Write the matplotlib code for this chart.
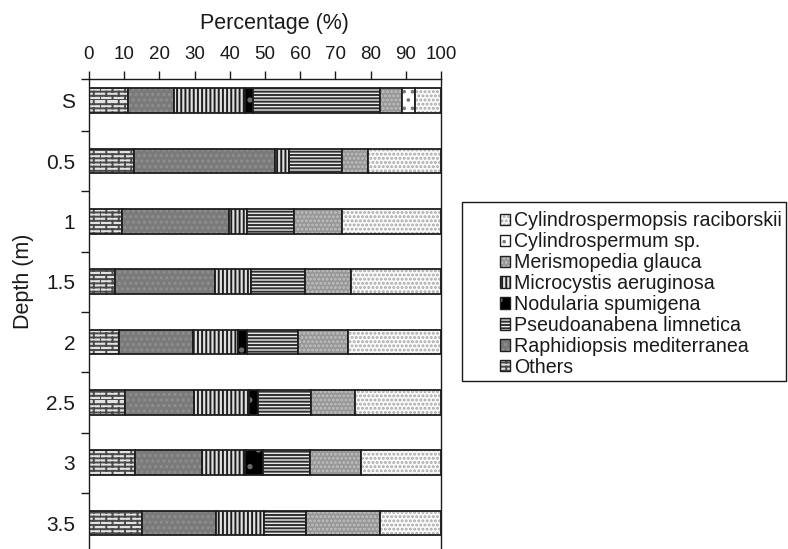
import warnings
import numpy as np
import matplotlib
matplotlib.use('Agg')
import matplotlib.pyplot as plt
import matplotlib.hatch as mhatch
from matplotlib.path import Path
from matplotlib.patches import Patch, Rectangle

warnings.filterwarnings('ignore')

# ---------------- data ----------------
depths = ['S', '0.5', '1', '1.5', '2', '2.5', '3', '3.5']
others = [11.1, 12.7, 9.5, 7.3, 8.4, 10.3, 13.0, 15.1]
raphidiopsis = [13.1, 40.1, 30.4, 28.4, 21.2, 19.5, 19.1, 21.1]
microcystis = [20.1, 4.1, 5.1, 10.3, 12.6, 15.7, 12.2, 13.5]
nodularia = [2.2, 0.0, 0.0, 0.0, 2.6, 2.6, 5.2, 0.0]
pseudoanabena = [36.2, 15.0, 13.1, 15.5, 14.7, 15.0, 13.3, 11.9]
merismopedia = [6.3, 7.4, 13.9, 12.9, 14.2, 12.5, 14.6, 21.1]
cylindrospermum = [3.6, 0.0, 0.0, 0.0, 0.0, 0.0, 0.0, 0.0]
cylindrospermopsis = [7.4, 20.7, 28.0, 25.6, 26.3, 24.4, 22.6, 17.3]
xticks = [0, 10, 20, 30, 40, 50, 60, 70, 80, 90, 100]


# ---------------- custom brick hatch ----------------
class BrickHatch(mhatch.HatchPatternBase):
    def __init__(self, hatch, density):
        self.rows = int(hatch.count('b') * density)
        self.cols = max(self.rows // 3, 1)
        self.num_vertices = (self.rows * 2 + self.rows * self.cols * 2) if self.rows else 0

    def set_vertices_and_codes(self, vertices, codes):
        n, m = self.rows, self.cols
        i = 0
        for k in range(n):
            yv = k / n
            vertices[i] = (0.0, yv); codes[i] = Path.MOVETO; i += 1
            vertices[i] = (1.0, yv); codes[i] = Path.LINETO; i += 1
        for k in range(n):
            yv = k / n
            off = 0.5 / m if k % 2 else 0.0
            for j in range(m):
                xv = j / m + off
                vertices[i] = (xv, yv); codes[i] = Path.MOVETO; i += 1
                vertices[i] = (xv, yv + 1.0 / n); codes[i] = Path.LINETO; i += 1


mhatch._hatch_types.append(BrickHatch)

plt.rcParams['font.family'] = ['Liberation Sans', 'DejaVu Sans']
plt.rcParams['hatch.linewidth'] = 1.4

# stacking order (left to right) with styles
stack = [
    ('Others', others, '#e2e2e2', 'bbbb', '#4a4a4a'),
    ('Raphidiopsis mediterranea', raphidiopsis, '#7a7a7a', '...', '#8f8f8f'),
    ('Microcystis aeruginosa', microcystis, '#e0e0e0', '||||', '#1e1e1e'),
    ('Nodularia spumigena', nodularia, '#000000', '.', '#6a6a6a'),
    ('Pseudoanabena limnetica', pseudoanabena, '#e8e8e8', '-----', '#303030'),
    ('Merismopedia glauca', merismopedia, '#969696', '....', '#c0c0c0'),
    ('Cylindrospermum sp.', cylindrospermum, '#ffffff', '..', '#7a7a7a'),
    ('Cylindrospermopsis raciborskii', cylindrospermopsis, '#fafafa', '....', '#a8a8a8'),
]
legend_order = ['Cylindrospermopsis raciborskii', 'Cylindrospermum sp.',
                'Merismopedia glauca', 'Microcystis aeruginosa',
                'Nodularia spumigena', 'Pseudoanabena limnetica',
                'Raphidiopsis mediterranea', 'Others']

W, H = 788, 549
fig = plt.figure(figsize=(W / 100, H / 100), dpi=100)
ax = fig.add_axes([89 / W, 0.0, (441 - 89) / W, (549 - 79) / H])

ypos = np.arange(len(depths))
left = np.zeros(len(depths))
bar_h = 0.41
for name, vals, face, hatch, hcol in stack:
    vals = np.asarray(vals)
    ax.barh(ypos, vals, left=left, height=bar_h, color=face, hatch=hatch,
            edgecolor=hcol, linewidth=0)
    ax.barh(ypos, vals, left=left, height=bar_h, fill=False,
            edgecolor='#1e1e1e', linewidth=1.3)
    left += vals

top_pad, bot_pad = 0.36, 0.43
ax.set_ylim(len(depths) - 1 + bot_pad, -top_pad)
ax.set_xlim(0, 100)

# x axis on top
ax.xaxis.tick_top()
ax.set_xticks(xticks)
ax.set_xticklabels([str(t) for t in xticks])
ax.tick_params(axis='x', direction='out', length=5.5, width=1.0, pad=6,
               labelsize=13.5, colors='#1a1a1a')

# y axis: labels at bars, ticks between bars
ax.set_yticks(ypos)
ax.set_yticklabels(depths)
ax.tick_params(axis='y', which='major', length=0, pad=10, labelsize=15,
               colors='#1a1a1a')
minor = list(ypos[:-1] + 0.5) + [-top_pad]
ax.set_yticks(minor, minor=True)
ax.tick_params(axis='y', which='minor', direction='out', length=5.5, width=1.0,
               color='#1a1a1a')

for s in ['top', 'left', 'right']:
    ax.spines[s].set_linewidth(1.0)
    ax.spines[s].set_color('#1a1a1a')
ax.spines['bottom'].set_visible(False)

fig.text(274 / W, 1 - 23 / H, 'Percentage (%)', ha='center', va='center',
         fontsize=15.5, color='#1a1a1a')
fig.text(23 / W, 1 - 281 / H, 'Depth (m)', ha='center', va='center',
         rotation=90, fontsize=15.5, color='#1a1a1a')

# legend
style = {name: (face, hatch, hcol) for name, vals, face, hatch, hcol in stack}
handles = []
for name in legend_order:
    face, hatch, hcol = style[name]
    handles.append((Patch(facecolor=face, hatch=hatch, edgecolor=hcol, linewidth=0),
                    Patch(fill=False, edgecolor='#1e1e1e', linewidth=1.0)))
fig.legend(handles, legend_order, loc='center left',
           bbox_to_anchor=(500 / W, 1 - 294 / H), frameon=False,
           borderpad=0, borderaxespad=0, handlelength=0.5, handleheight=0.5,
           handletextpad=0.2, labelspacing=0.1, fontsize=14.1,
           labelcolor='#1a1a1a')
fig.add_artist(Rectangle((462 / W, 1 - 381 / H), (786 - 462) / W, (381 - 202) / H,
                         transform=fig.transFigure, fill=False, linewidth=1.0,
                         edgecolor='#1a1a1a'))

fig.savefig('out.png', dpi=100)
